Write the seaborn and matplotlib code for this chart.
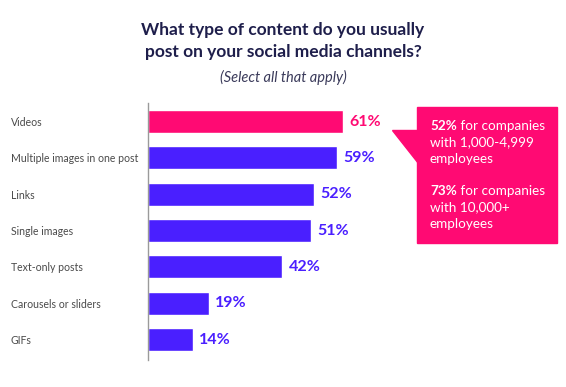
import seaborn as sns
import matplotlib.pyplot as plt
from matplotlib.patches import Polygon, Rectangle

categories = ["Videos", "Multiple images in one post", "Links", "Single images",
              "Text-only posts", "Carousels or sliders", "GIFs"]
values = [61, 59, 52, 51, 42, 19, 14]
value_labels = ["61%", "59%", "52%", "51%", "42%", "19%", "14%"]
callout_bold = ["52%", "73%"]
callout_rest = [" for companies\nwith 1,000-4,999\nemployees", " for companies\nwith 10,000+\nemployees"]

PINK = "#FF0A73"
PURPLE = "#4A1FFF"
NAVY = "#1E1E4B"

sns.set_style("white")
plt.rcParams['font.family'] = ['Lato', 'DejaVu Sans']

fig = plt.figure(figsize=(5.66, 3.87), dpi=100)
W, H = 566, 387
ax = fig.add_axes([148 / W, 1 - 360 / H, 320 / W, 257 / H])

colors = [PINK] + [PURPLE] * (len(categories) - 1)
sns.barplot(x=values, y=categories, hue=categories, palette=colors, legend=False,
            orient="h", width=0.63, ax=ax, saturation=1)

ax.set_xlim(0, 100)
ax.set_ylim(6.56, -0.51)
ax.set_xlabel("")
ax.set_ylabel("")
ax.set_xticks([])
sns.despine(ax=ax, top=True, right=True, bottom=True, left=False)
ax.spines["left"].set_color("#9a9a9a")
ax.spines["left"].set_linewidth(1)
ax.tick_params(axis="y", length=0, pad=99)
for lbl in ax.get_yticklabels():
    lbl.set_ha("left")
    lbl.set_fontsize(7.6)
    lbl.set_color("#4a4a4a")

for i, (v, s) in enumerate(zip(values, value_labels)):
    ax.text(v + 1.9, i, s, va="center", ha="left", fontsize=11.5, fontweight="bold",
            color=PINK if i == 0 else PURPLE)

# title
fig.text(0.5, 1 - 41 / H, "What type of content do you usually\npost on your social media channels?",
         ha="center", va="center", fontsize=12.5, fontweight="bold", color=NAVY, linespacing=1.45)
fig.text(0.5, 1 - 77 / H, "(Select all that apply)", ha="center", va="center",
         fontsize=10.5, style="italic", color="#3a3a5a")

# callout box
fig.patches.append(Rectangle((417 / W, 1 - 243 / H), 140 / W, 136 / H,
                             transform=fig.transFigure, color=PINK, zorder=1))
fig.patches.append(Polygon([(392 / W, 1 - 130 / H), (418 / W, 1 - 130 / H), (418 / W, 1 - 163 / H)],
                           transform=fig.transFigure, color=PINK, zorder=1))

renderer = fig.canvas.get_renderer()
for y0, b, r in zip([130, 195], callout_bold, callout_rest):
    t1 = fig.text(430 / W, 1 - y0 / H, b, ha="left", va="baseline", fontsize=9.7,
                  fontweight="bold", color="white")
    x1 = t1.get_window_extent(renderer).x1 / W
    lines = r.split("\n")
    fig.text(x1, 1 - y0 / H, lines[0], ha="left", va="baseline", fontsize=9.7, color="white")
    for k, line in enumerate(lines[1:], start=1):
        fig.text(430 / W, 1 - (y0 + 16.3 * k) / H, line, ha="left", va="baseline",
                 fontsize=9.7, color="white")

fig.savefig("out.png", dpi=100)
